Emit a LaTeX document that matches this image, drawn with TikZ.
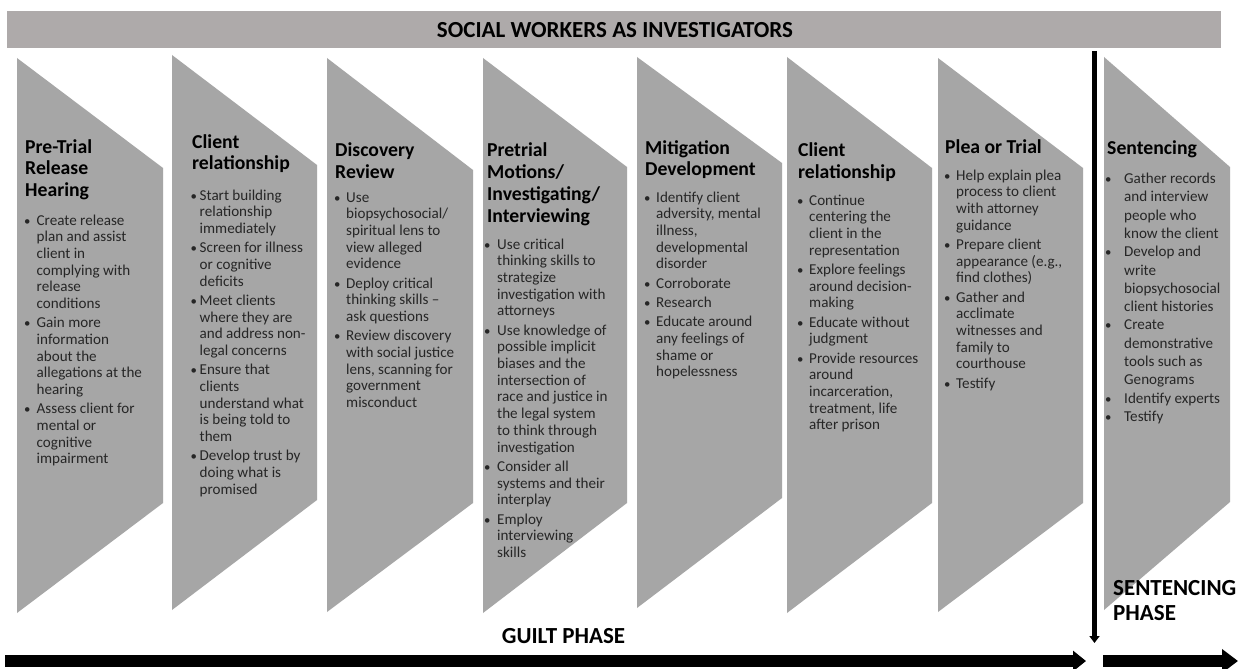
\documentclass[tikz,border=0pt]{standalone}
\usepackage{fontspec}
\setmainfont{Carlito}
\usetikzlibrary{arrows.meta}
\definecolor{shapegray}{HTML}{A6A6A6}
\definecolor{bargray}{HTML}{AEAAAA}
\definecolor{bodytxt}{HTML}{262626}
\newlength{\bind}
\newcommand{\hdfont}{\fontsize{19.7}{21.7}\selectfont\bfseries}
\newcommand{\bdfont}{\fontsize{15.1}{16.7}\selectfont}
\newcommand{\bul}{\makebox[0pt][c]{\scalebox{0.85}{\textbullet}}}
\newcommand{\bi}[1]{\makebox[\bind][l]{\hspace*{2pt}\bul}#1}
\newcommand{\bc}[1]{\hspace*{\bind}#1}
\newcommand{\nb}{\\[2.6pt]}
\newcommand{\colbox}[1]{\parbox[t]{180pt}{\raggedright #1}}
\tikzset{
  chev/.style={fill=shapegray, draw=none},
  headtxt/.style={anchor=base west, inner sep=0pt, font=\hdfont, text=black},
  bodytext/.style={anchor=base west, inner sep=0pt, font=\bdfont, text=bodytxt},
  phase/.style={inner sep=0pt, font=\fontsize{23}{25}\selectfont\bfseries, text=black},
  thinarrow/.style={line width=4.5pt, -{Triangle[width=10pt,length=7pt]}},
  fatarrow/.style={line width=12pt, -{Triangle[width=20pt,length=13pt]}},
  fatarrowb/.style={line width=12pt, -{Triangle[width=23pt,length=16pt]}},
}
\begin{document}
\begin{tikzpicture}[x=1pt,y=-1pt]
\useasboundingbox (0,0) rectangle (1254,669);
\fill[white] (0,0) rectangle (1254,669);
% header bar
\fill[bargray] (7,11) rectangle (1221,48);
\node[inner sep=0pt, font=\fontsize{23}{25}\selectfont\bfseries] (title) at (615,30) {SOCIAL WORKERS AS INVESTIGATORS};
% chevrons
\fill[chev] (17,58) -- (163,168) -- (163,503) -- (17,613) -- cycle;
\fill[chev] (172,55) -- (317,165) -- (317,500) -- (172,610) -- cycle;
\fill[chev] (327,58) -- (473,170) -- (473,503) -- (327,612) -- cycle;
\fill[chev] (483,58) -- (627,167) -- (627,503) -- (483,613) -- cycle;
\fill[chev] (637,57) -- (782,163) -- (782,498) -- (637,608) -- cycle;
\fill[chev] (787,57) -- (932,168) -- (932,503) -- (787,613) -- cycle;
\fill[chev] (938,58) -- (1083,168) -- (1083,503) -- (938,612) -- cycle;
\fill[chev] (1104,57) -- (1230,167) -- (1230,502) -- (1104,610) -- cycle;
% column 1
\node[headtxt] (h1) at (25,153) {\colbox{Pre-Trial\\Release\\Hearing}};
\node[bodytext] (b1) at (25,225) {\setlength{\bind}{11.5pt}\colbox{%
\bi{Create release}\\ \bc{plan and assist}\\ \bc{client in}\\ \bc{complying with}\\ \bc{release}\\ \bc{conditions}\nb
\bi{Gain more}\\ \bc{information}\\ \bc{about the}\\ \bc{allegations at the}\\ \bc{hearing}\nb
\bi{Assess client for}\\ \bc{mental or}\\ \bc{cognitive}\\ \bc{impairment}}};
% column 2
\node[headtxt] (h2) at (192,148) {\colbox{Client\\relationship}};
\node[bodytext] (b2) at (191.5,200) {\setlength{\bind}{8pt}\colbox{%
\bi{Start building}\\ \bc{relationship}\\ \bc{immediately}\nb
\bi{Screen for illness}\\ \bc{or cognitive}\\ \bc{deficits}\nb
\bi{Meet clients}\\ \bc{where they are}\\ \bc{and address non-}\\ \bc{legal concerns}\nb
\bi{Ensure that}\\ \bc{clients}\\ \bc{understand what}\\ \bc{is being told to}\\ \bc{them}\nb
\bi{Develop trust by}\\ \bc{doing what is}\\ \bc{promised}}};
% column 3
\node[headtxt] (h3) at (335,156.7) {\colbox{Discovery\\Review}};
\node[bodytext] (b3) at (335,202) {\setlength{\bind}{11pt}\colbox{%
\bi{Use}\\ \bc{biopsychosocial/}\\ \bc{spiritual lens to}\\ \bc{view alleged}\\ \bc{evidence}\nb
\bi{Deploy critical}\\ \bc{thinking skills --}\\ \bc{ask questions}\nb
\bi{Review discovery}\\ \bc{with social justice}\\ \bc{lens, scanning for}\\ \bc{government}\\ \bc{misconduct}}};
% column 4
\node[headtxt] (h4) at (487,157) {\colbox{Pretrial\\Motions/\\Investigating/\\Interviewing}};
\node[bodytext] (b4) at (485,249) {\setlength{\bind}{12pt}\colbox{%
\bi{Use critical}\\ \bc{thinking skills to}\\ \bc{strategize}\\ \bc{investigation with}\\ \bc{attorneys}\nb
\bi{Use knowledge of}\\ \bc{possible implicit}\\ \bc{biases and the}\\ \bc{intersection of}\\ \bc{race and justice in}\\ \bc{the legal system}\\ \bc{to think through}\\ \bc{investigation}\nb
\bi{Consider all}\\ \bc{systems and their}\\ \bc{interplay}\nb
\bi{Employ}\\ \bc{interviewing}\\ \bc{skills}}};
% column 5
\node[headtxt] (h5) at (645,154) {\colbox{Mitigation\\Development}};
\node[bodytext] (b5) at (645,202) {\setlength{\bind}{11pt}\colbox{%
\bi{Identify client}\\ \bc{adversity, mental}\\ \bc{illness,}\\ \bc{developmental}\\ \bc{disorder}\nb
\bi{Corroborate}\nb
\bi{Research}\nb
\bi{Educate around}\\ \bc{any feelings of}\\ \bc{shame or}\\ \bc{hopelessness}}};
% column 6
\node[headtxt] (h6) at (798,156.7) {\colbox{Client\\relationship}};
\node[bodytext] (b6) at (798,205) {\setlength{\bind}{11pt}\colbox{%
\bi{Continue}\\ \bc{centering the}\\ \bc{client in the}\\ \bc{representation}\nb
\bi{Explore feelings}\\ \bc{around decision-}\\ \bc{making}\nb
\bi{Educate without}\\ \bc{judgment}\nb
\bi{Provide resources}\\ \bc{around}\\ \bc{incarceration,}\\ \bc{treatment, life}\\ \bc{after prison}}};
% column 7
\node[headtxt] (h7) at (945,153.3) {\colbox{Plea or Trial}};
\node[bodytext] (b7) at (945,180) {\setlength{\bind}{11pt}\colbox{%
\bi{Help explain plea}\\ \bc{process to client}\\ \bc{with attorney}\\ \bc{guidance}\nb
\bi{Prepare client}\\ \bc{appearance (e.g.,}\\ \bc{find clothes)}\nb
\bi{Gather and}\\ \bc{acclimate}\\ \bc{witnesses and}\\ \bc{family to}\\ \bc{courthouse}\nb
\bi{Testify}}};
% column 8
\node[headtxt] (h8) at (1107,154) {\colbox{Sentencing}};
\node[bodytext, font=\fontsize{15.1}{18.3}\selectfont] (b8) at (1106,183.5) {\setlength{\bind}{18pt}\colbox{%
\bi{Gather records}\\ \bc{and interview}\\ \bc{people who}\\ \bc{know the client}\\
\bi{Develop and}\\ \bc{write}\\ \bc{biopsychosocial}\\ \bc{client histories}\\
\bi{Create}\\ \bc{demonstrative}\\ \bc{tools such as}\\ \bc{Genograms}\\
\bi{Identify experts}\\
\bi{Testify}}};
% phase divider
\coordinate (vtop) at (1094.5,51);
\coordinate (vbot) at (1094.5,643);
\draw[thinarrow] (vtop) -- (vbot);
% phase labels
\node[phase, anchor=base] (guilt) at (563.5,643) {GUILT PHASE};
\node[phase, anchor=base west, align=left] (sent) at (1113,620) {SENTENCING\\PHASE};
% bottom arrows
\coordinate (ga) at (5,661);
\coordinate (gb) at (1086,661);
\coordinate (sa) at (1103,661);
\coordinate (sb) at (1238,661);
\draw[fatarrow] (ga) -- (gb);
\draw[fatarrowb] (sa) -- (sb);
\end{tikzpicture}
\end{document}
